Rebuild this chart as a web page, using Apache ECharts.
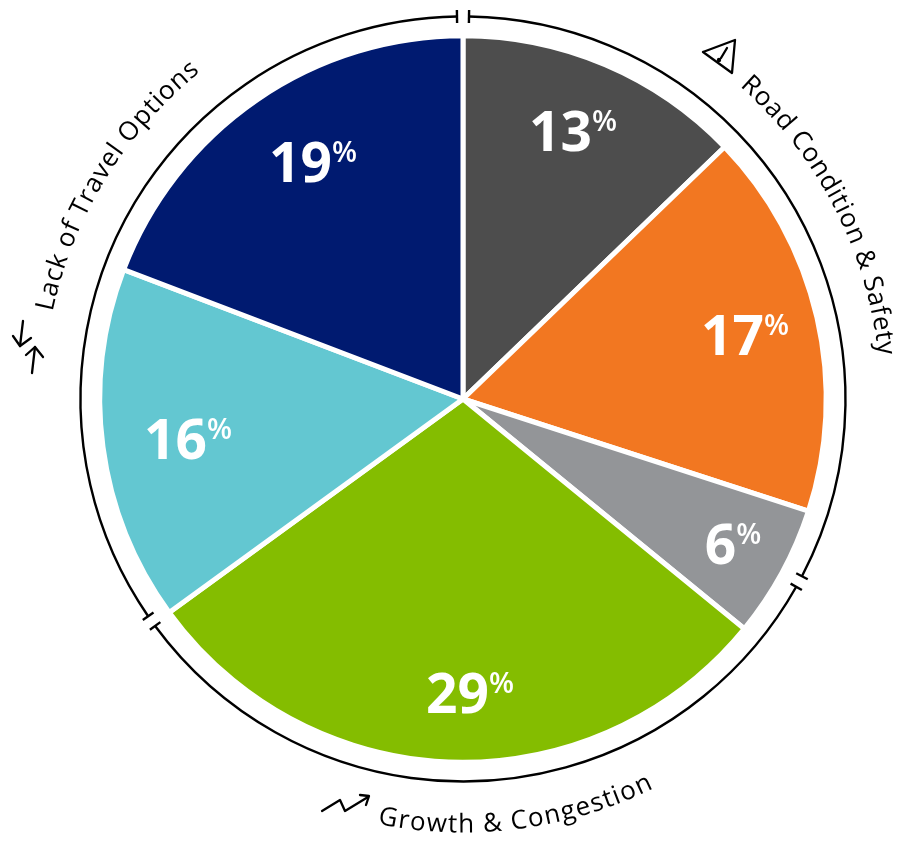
<!DOCTYPE html>
<html><head><meta charset="utf-8">
<style>html,body{margin:0;padding:0;background:#fff}#c{width:899px;height:841px}</style>
<script src="https://cdn.jsdelivr.net/npm/echarts@6/dist/echarts.min.js"></script>
</head><body><div id="c"></div>
<script>
const values = [12.8, 17.2, 5.9, 29.1, 15.8, 19.2];
const colors = ['#4d4d4d', '#f27721', '#939598', '#84bd00', '#63c7d1', '#001a70'];
const groupLabels = ['Road Condition & Safety', 'Growth & Congestion', 'Lack of Travel Options'];
const labelX = [573, 745, 733, 470, 188, 313];
const labelY = [135, 339, 548, 697, 443, 166];
const ringBreaks = [0, 118.5, 234.5];   // degrees clockwise from the top

const CX = 463, CY = 399, R = 363.2, RING = 382.5, GAP = 0.9;
const FONT = '"Open Sans", sans-serif';
const FS = 26;
const rad = d => d * Math.PI / 180;
const pt = (deg, r) => [CX + r * Math.sin(rad(deg)), CY - r * Math.cos(rad(deg))];
const graphics = [];

ringBreaks.forEach((b, i) => {
  const e = ringBreaks[(i + 1) % 3] + (i === 2 ? 360 : 0);
  graphics.push({type: 'arc', silent: true,
    shape: {cx: CX, cy: CY, r: RING, startAngle: rad(b + GAP - 90), endAngle: rad(e - GAP - 90), clockwise: true},
    style: {stroke: '#000', lineWidth: 2.4, fill: null}});
  [b + GAP, e - GAP].forEach(a => {
    const p = pt(a, RING - 6.5), q = pt(a, RING + 6.5);
    graphics.push({type: 'line', silent: true, shape: {x1: p[0], y1: p[1], x2: q[0], y2: q[1]}, style: {stroke: '#000', lineWidth: 2.4}});
  });
});

const ctx = document.createElement('canvas').getContext('2d');
function curved(text, a0, a1, r, flip) {
  ctx.font = FS + 'px ' + FONT;
  const total = ctx.measureText(text).width;
  const span = Math.abs(a1 - a0);
  const extra = (span * Math.PI / 180 * r - total) / (text.length - 1);
  const dir = a1 > a0 ? 1 : -1;
  [...text].forEach((ch, i) => {
    const w = ctx.measureText(ch).width;
    const pre = ctx.measureText(text.slice(0, i + 1)).width - w / 2 + extra * i;
    const a = a0 + dir * (pre / (r * Math.PI / 180));
    const p = pt(a, r);
    graphics.push({type: 'text', silent: true, x: p[0], y: p[1],
      rotation: -rad(flip ? a - 180 : a),
      style: {text: ch, font: FS + 'px ' + FONT, fill: '#000', align: 'center', verticalAlign: 'middle'}});
  });
}
curved(groupLabels[0], 41.5, 84, 425, false);
curved(groupLabels[2], 282, 321.2, 427, false);
curved(groupLabels[1], 191.4, 153.9, 426, true);

const ink = {stroke: '#000', lineWidth: 2.3, fill: null, lineJoin: 'round', lineCap: 'round'};
const poly = pts => graphics.push({type: 'polyline', silent: true, shape: {points: pts}, style: ink});
poly([[703, 52], [735, 40], [732, 73], [703, 52]]);
poly([[727, 48], [721, 58]]);
graphics.push({type: 'circle', silent: true, shape: {cx: 719, cy: 60, r: 2.2}, style: {fill: '#000'}});
poly([[23, 321], [20, 346]]); poly([[13, 336], [20, 346], [31, 338]]);
poly([[32, 373], [35, 347]]); poly([[26, 355], [35, 347], [43, 357]]);
poly([[322, 811], [340, 800], [345, 811], [368, 797]]); poly([[360, 795], [369, 796], [366, 805]]);

const chart = echarts.init(document.getElementById('c'), null, {renderer: 'canvas'});
chart.setOption({
  animation: false,
  graphic: graphics,
  series: [{
    type: 'pie', center: [CX, CY], radius: [0, R], startAngle: 90, clockwise: true,
    silent: true,
    itemStyle: {borderColor: '#fff', borderWidth: 5},
    data: values.map((v, i) => ({value: v, itemStyle: {color: colors[i]}})),
    labelLine: {show: false},
    label: {
      show: true, position: 'inside',
      formatter: p => '{n|' + Math.round(p.value) + '}{p|%}',
      rich: {
        n: {fontFamily: 'Open Sans', fontWeight: 'bold', fontSize: 55, color: '#fff'},
        p: {fontFamily: 'Open Sans', fontWeight: 600, fontSize: 29, color: '#fff', padding: [0, 0, 24, 0]}
      }
    },
    labelLayout: p => ({x: labelX[p.dataIndex], y: labelY[p.dataIndex], align: 'center', verticalAlign: 'middle'})
  }]
});
</script></body></html>
